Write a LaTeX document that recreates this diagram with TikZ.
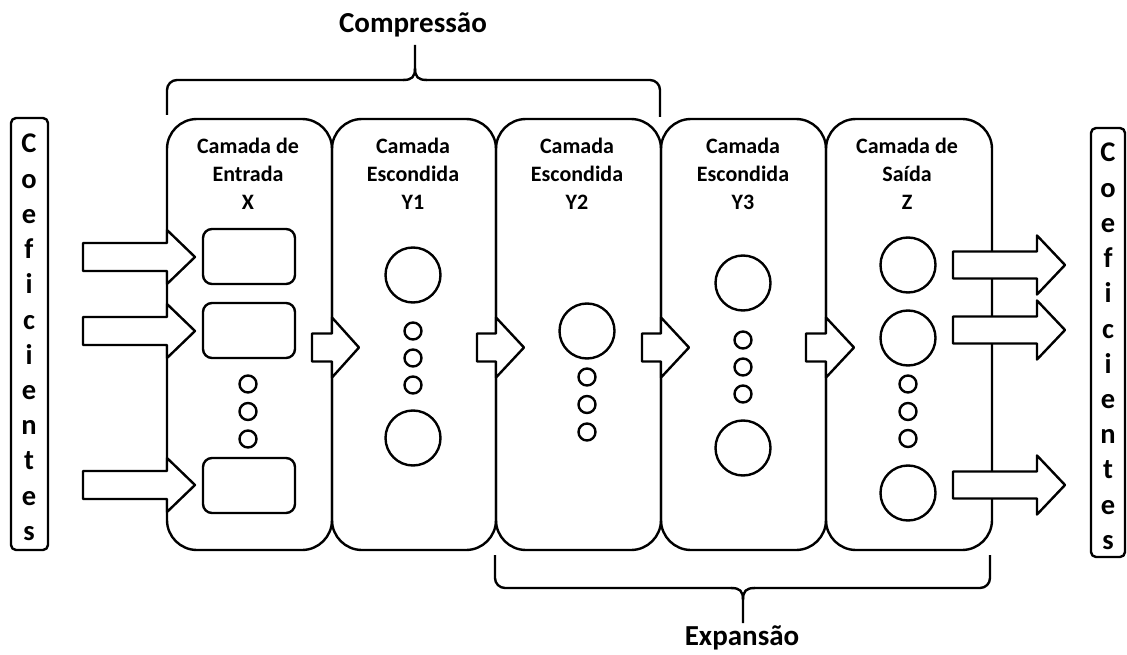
\documentclass[tikz,border=0pt]{standalone}
\usepackage{fontspec}
\setmainfont{Carlito}
\newcommand\barrow[6]{%
  \draw[arrowbox] ({#1},{#4-#5}) -- ({#2},{#4-#5}) -- ({#2},{#4-#6}) -- ({#3},{#4}) -- ({#2},{#4+#6}) -- ({#2},{#4+#5}) -- ({#1},{#4+#5}) -- cycle;}
\begin{document}
\begin{tikzpicture}[x=1pt,y=-1pt,line width=2.4pt,line join=round,
  layer/.style={draw,rounded corners=30pt,minimum height=431pt,inner sep=0pt},
  coefbox/.style={draw,rounded corners=5pt,inner sep=0pt},
  inbox/.style={draw,rounded corners=9pt,minimum width=92pt,minimum height=55pt,inner sep=0pt},
  big/.style={draw,circle,minimum size=55pt,inner sep=0pt},
  small/.style={draw,circle,minimum size=17pt,inner sep=0pt},
  ttl/.style={font=\bfseries\fontsize{22}{26}\selectfont,anchor=base,inner sep=0pt},
  letter/.style={font=\bfseries\fontsize{28.5}{32}\selectfont,anchor=base,inner sep=0pt},
  head/.style={font=\bfseries\fontsize{29}{33}\selectfont,inner sep=0pt},
  arrowbox/.style={draw,fill=white},
  brace/.style={draw,line width=2.4pt}]
\useasboundingbox (0,0) rectangle (1127,655);
% layers
\node[layer,minimum width=165pt] (L1) at (249.5,334.5) {};
\node[layer,minimum width=164pt] (L2) at (414,334.5) {};
\node[layer,minimum width=165pt] (L3) at (578.5,334.5) {};
\node[layer,minimum width=165pt] (L4) at (743.5,334.5) {};
\node[layer,minimum width=166pt] (L5) at (909,334.5) {};
% coefficient boxes
\node[coefbox,minimum width=37pt,minimum height=432pt] (CL) at (29.5,334) {};
\node[coefbox,minimum width=34pt,minimum height=429pt] (CR) at (1108,342.5) {};
\foreach \ch [count=\i from 0] in {C,o,e,f,i,c,i,e,n,t,e,s} {
  \node[letter] (cl\i) at (29,{153+35.2*\i}) {\ch};
  \node[letter] (cr\i) at (1108,{162+35.2*\i}) {\ch};
}
% titles
\node[ttl] (t1a) at (248,154) {Camada de};
\node[ttl] (t1b) at (248,182) {Entrada};
\node[ttl] (t1c) at (248,209.5) {X};
\node[ttl] (t2a) at (413,154) {Camada};
\node[ttl] (t2b) at (413,182) {Escondida};
\node[ttl] (t2c) at (413,209.5) {Y1};
\node[ttl] (t3a) at (577,154) {Camada};
\node[ttl] (t3b) at (577,182) {Escondida};
\node[ttl] (t3c) at (577,209.5) {Y2};
\node[ttl] (t4a) at (743,154) {Camada};
\node[ttl] (t4b) at (743,182) {Escondida};
\node[ttl] (t4c) at (743,209.5) {Y3};
\node[ttl] (t5a) at (907,154) {Camada de};
\node[ttl] (t5b) at (907,182) {Saída};
\node[ttl] (t5c) at (907,209.5) {Z};
% layer 1 contents
\node[inbox] (x1) at (249,256.5) {};
\node[inbox] (x2) at (249,330.5) {};
\node[inbox] (x3) at (249,485.5) {};
\node[small] (s11) at (248,384) {};
\node[small] (s12) at (248,411.5) {};
\node[small] (s13) at (248,439) {};
% layer 2
\node[big] (b21) at (413,275) {};
\node[small] (s21) at (413,331) {};
\node[small] (s22) at (413,358) {};
\node[small] (s23) at (413,385) {};
\node[big] (b22) at (413,438) {};
% layer 3
\node[big] (b31) at (587,331) {};
\node[small] (s31) at (587,377) {};
\node[small] (s32) at (587,404.5) {};
\node[small] (s33) at (587,432) {};
% layer 4
\node[big] (b41) at (743,283) {};
\node[small] (s41) at (743,340) {};
\node[small] (s42) at (743,367) {};
\node[small] (s43) at (743,394) {};
\node[big] (b42) at (743,448) {};
% layer 5
\node[big] (b51) at (908,265) {};
\node[big] (b52) at (908,338) {};
\node[small] (s51) at (908,384) {};
\node[small] (s52) at (908,411.5) {};
\node[small] (s53) at (908,438.5) {};
\node[big] (b53) at (908,493) {};
% input arrows
\barrow{83}{167}{195}{257}{14}{27}
\barrow{83}{167}{195}{331}{14}{27}
\barrow{83}{167}{195}{485}{14}{27}
% inter-layer arrows
\barrow{312}{332}{359}{347.5}{14}{30}
\barrow{477}{496}{524}{347.5}{14}{30}
\barrow{642}{661}{689}{347.5}{14}{30}
\barrow{806}{826}{854}{347.5}{14}{30}
% output arrows
\barrow{953}{1037}{1065}{265}{13.5}{29.5}
\barrow{953}{1037}{1065}{330}{13.5}{29.5}
\barrow{953}{1037}{1065}{485}{13.5}{29.5}
% braces
\coordinate (cb1) at (167,115);
\coordinate (cb2) at (660,117);
\coordinate (cbt) at (415,45);
\path[brace,rounded corners=10pt] (cb1) -- (167,80) -- (404,80);
\path[brace] (403,80) .. controls (412,80) and (415,77) .. (415,68) -- (cbt);
\path[brace] (415,68) .. controls (415,77) and (418,80) .. (427,80);
\path[brace,rounded corners=10pt] (426,80) -- (660,80) -- (cb2);
\coordinate (eb1) at (495,555);
\coordinate (eb2) at (990,555);
\coordinate (ebt) at (743,623);
\path[brace,rounded corners=10pt] (eb1) -- (495,588) -- (732,588);
\path[brace] (731,588) .. controls (740,588) and (743,591) .. (743,600) -- (ebt);
\path[brace] (743,600) .. controls (743,591) and (746,588) .. (755,588);
\path[brace,rounded corners=10pt] (754,588) -- (990,588) -- (eb2);
\node[head] (comp) at (413,25) {Compressão};
\node[head] (exp) at (742,638) {Expansão};
\end{tikzpicture}
\end{document}
